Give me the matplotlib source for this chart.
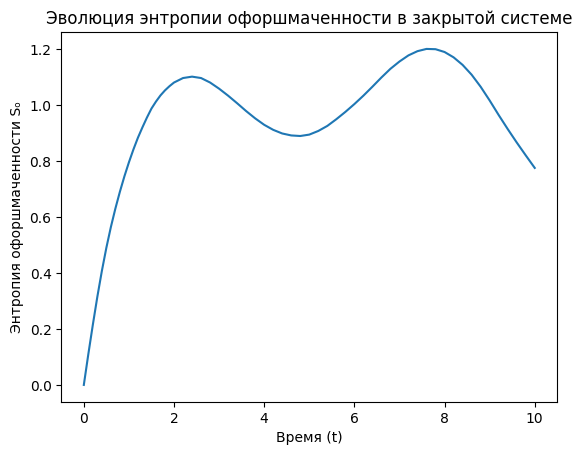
import matplotlib
matplotlib.use("Agg")
import matplotlib.pyplot as plt

t_values = [0.0, 0.1, 0.2, 0.3, 0.4, 0.5, 0.6, 0.7, 0.8, 0.9, 1.0, 1.1, 1.2,
            1.3, 1.4, 1.5, 1.6, 1.7, 1.8, 1.9, 2.0, 2.2, 2.4, 2.6, 2.8, 3.0,
            3.2, 3.4, 3.6, 3.8, 4.0, 4.2, 4.4, 4.6, 4.8, 5.0, 5.2, 5.4, 5.6,
            5.8, 6.0, 6.2, 6.4, 6.6, 6.8, 7.0, 7.2, 7.4, 7.6, 7.8, 8.0, 8.2,
            8.4, 8.6, 8.8, 9.0, 9.2, 9.4, 9.6, 9.8, 10.0]
entropy = [0.0, 0.11, 0.215, 0.315, 0.407, 0.49, 0.564, 0.63, 0.69, 0.745,
           0.795, 0.841, 0.883, 0.92, 0.955, 0.987, 1.012, 1.034, 1.052, 1.067,
           1.08, 1.096, 1.101, 1.096, 1.08, 1.058, 1.033, 1.006, 0.978, 0.952,
           0.929, 0.911, 0.898, 0.891, 0.889, 0.894, 0.907, 0.925, 0.949,
           0.975, 1.003, 1.033, 1.065, 1.098, 1.129, 1.155, 1.177, 1.192,
           1.200, 1.199, 1.189, 1.17, 1.143, 1.108, 1.065, 1.016, 0.964,
           0.914, 0.866, 0.82, 0.775]

title = "Эволюция энтропии офоршмаченности в закрытой системе"
xlabel = "Время (t)"
ylabel = "Энтропия офоршмаченности Sₒ"

fig, ax = plt.subplots(figsize=(6.4, 4.8), dpi=100)
ax.plot(t_values, entropy, color="#1f77b4", linewidth=1.5)
ax.set_title(title)
ax.set_xlabel(xlabel)
ax.set_ylabel(ylabel)
fig.savefig("out.png", bbox_inches="tight")
